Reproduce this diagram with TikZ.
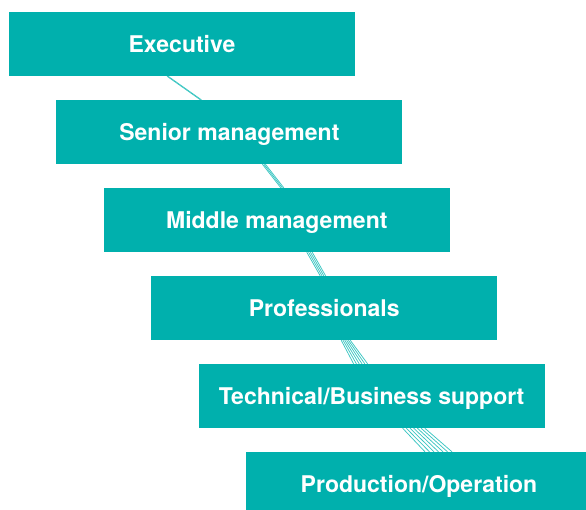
\documentclass[tikz,border=0pt]{standalone}
\usepackage{fontspec}
\setmainfont{TeX Gyre Heros}
\usetikzlibrary{positioning}
\definecolor{boxteal}{HTML}{00B0AD}
\definecolor{strandteal}{HTML}{3CC6C2}

\begin{document}
\begin{tikzpicture}[x=1pt,y=-1pt,
		level/.style={rectangle,fill=boxteal,text=white,inner sep=0pt,
			minimum width=346pt,minimum height=64pt,
			text height=16.5pt,text depth=0pt,
			font=\bfseries\fontsize{23}{26}\selectfont},
		strand/.style={draw=strandteal,line width=0.75pt},
		node distance=23.6pt]
		\useasboundingbox (0,0) rectangle (586,509);
		\node[level] (exec)                                  at (182,44) {Executive};
		\node[level] (senior) [below=of exec,xshift=47.4pt]   {Senior management};
		\node[level] (middle) [below=of senior,xshift=47.4pt] {Middle management};
		\node[level] (prof)   [below=of middle,xshift=47.4pt] {Professionals};
		\node[level] (tech)   [below=of prof,xshift=47.4pt]   {Technical/Business support};
		\node[level] (prod)   [below=of tech,xshift=47.4pt]   {Production/Operation};
		% strands between the levels, more of them further down
		\foreach \i in {0,1}
			\draw[strand] ([xshift=-15pt+\i*1pt]exec.south) -- ([xshift=-29pt+\i*1pt]senior.north);
		\foreach \i in {0,...,2}
			\draw[strand] ([xshift=33pt+\i*1.5pt]senior.south) -- ([xshift=4pt+\i*1.5pt]middle.north);
		\foreach \i in {0,...,3}
			\draw[strand] ([xshift=30pt+\i*1.8pt]middle.south) -- ([xshift=-4pt+\i*1.8pt]prof.north);
		\foreach \i in {0,...,5}
			\draw[strand] ([xshift=17pt+\i*1.8pt]prof.south) -- ([xshift=-18pt+\i*2.8pt]tech.north);
		\foreach \i in {0,...,6}
			\draw[strand] ([xshift=31pt+\i*3.7pt]tech.south) -- ([xshift=6pt+\i*4.5pt]prod.north);
	\end{tikzpicture}
\end{document}
